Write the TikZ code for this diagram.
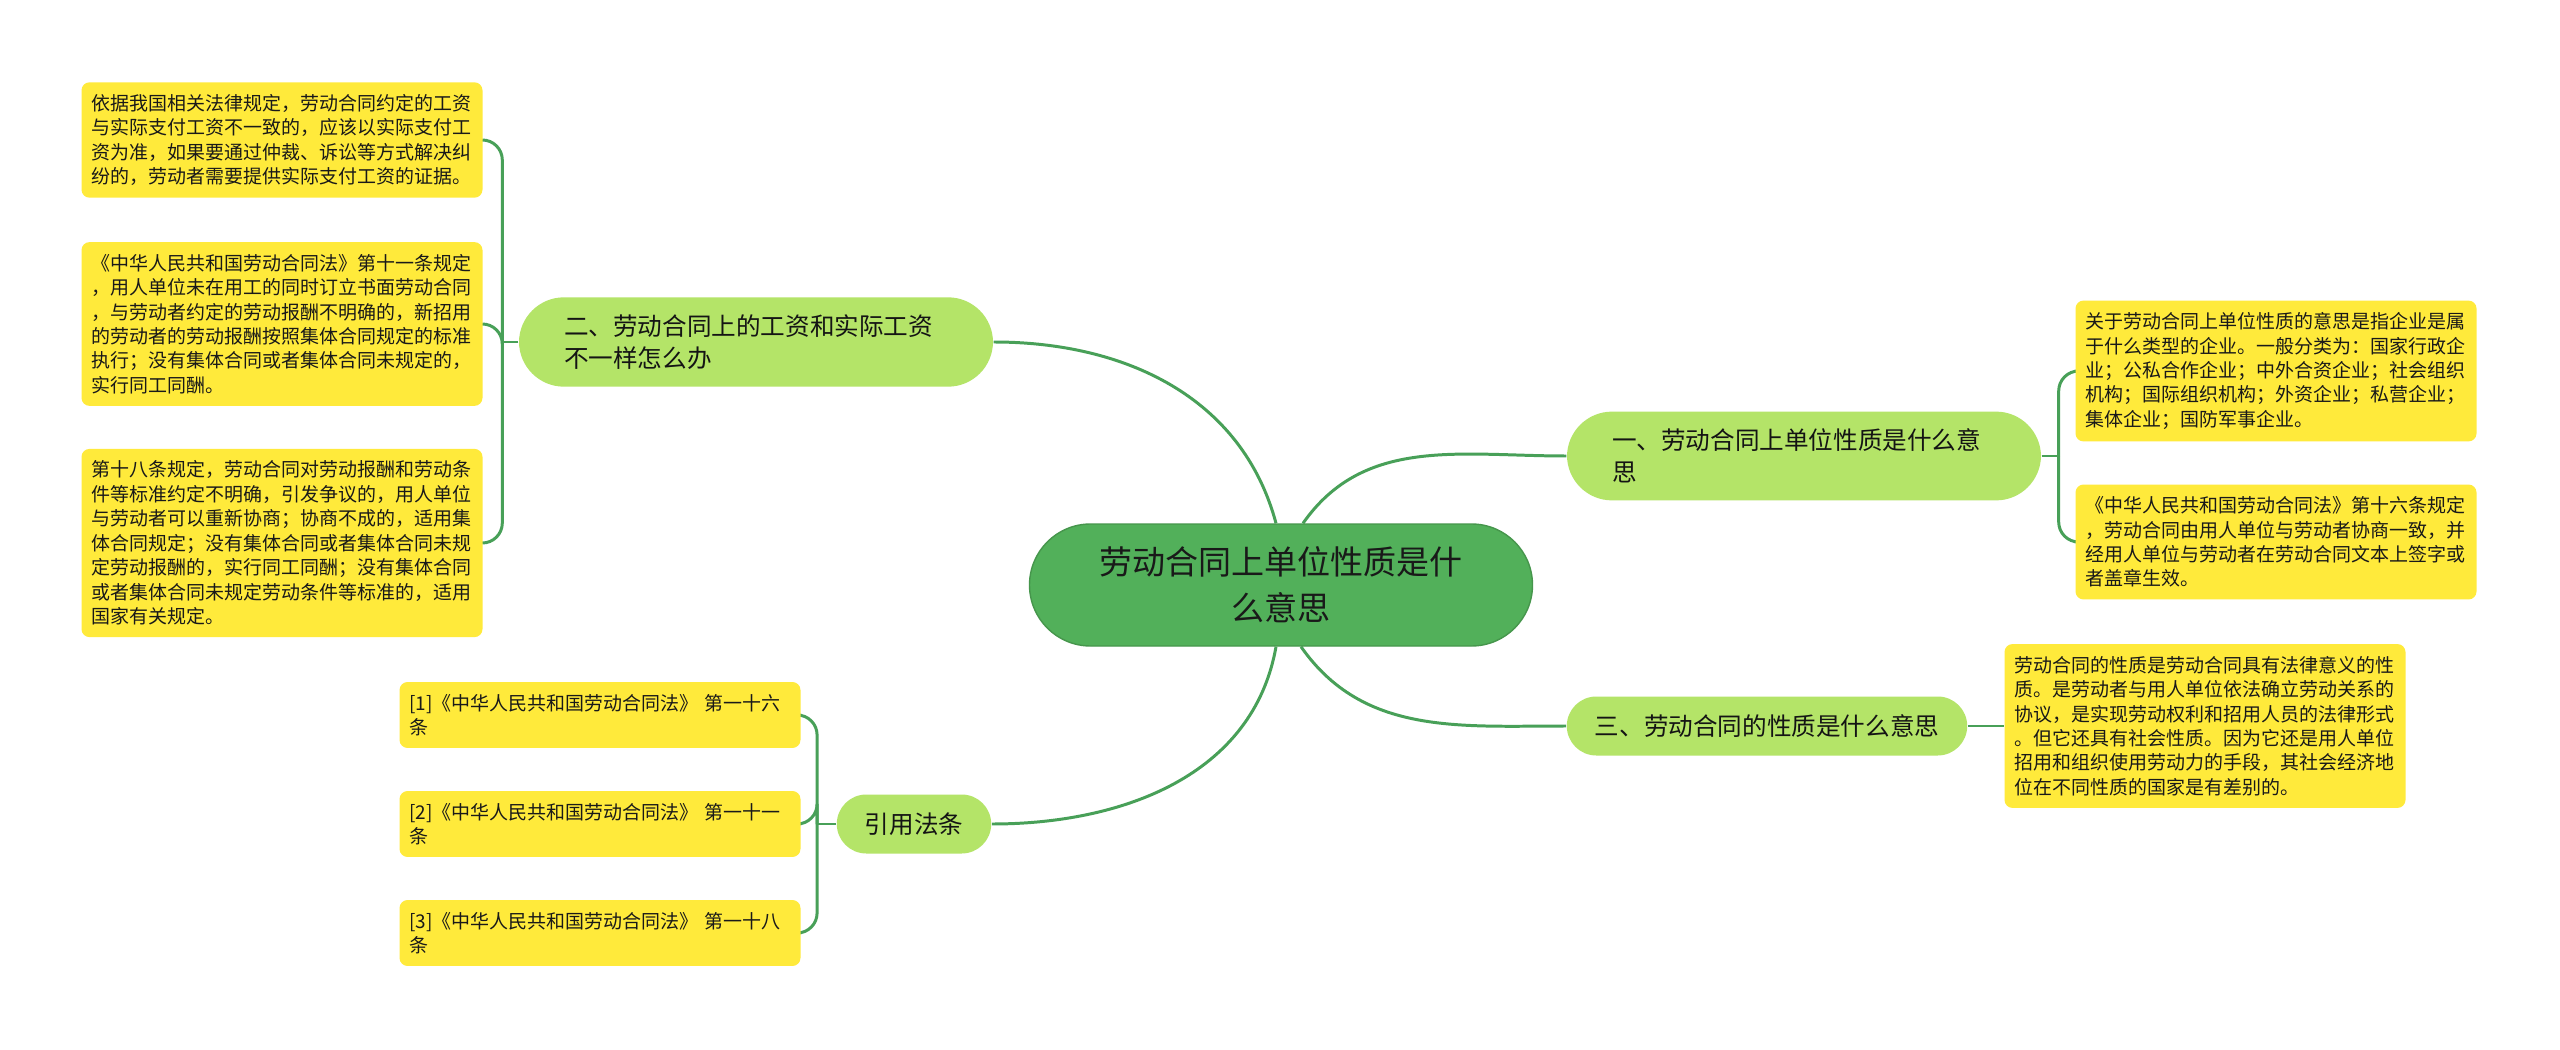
\documentclass[tikz,border=0pt]{standalone}
\usepackage{fontspec}
\setmainfont{Noto Sans CJK SC}
\usetikzlibrary{calc,backgrounds}
\definecolor{rootgreen}{RGB}{82,176,90}
\definecolor{topicgreen}{RGB}{180,228,104}
\definecolor{leafyellow}{RGB}{255,234,59}
\definecolor{linkgreen}{RGB}{72,160,88}

\begin{document}
\begin{tikzpicture}[
      x=0.1mm, y=0.1mm,
      root/.style={draw=rootgreen!85!black, fill=rootgreen, text=black!90,
                   rounded corners=6.1mm, minimum width=50.3mm, minimum height=12.2mm,
                   align=center, font=\fontsize{9.4}{13.1}\selectfont},
      topic/.style={fill=topicgreen, text=black!92, rounded corners=2.95mm,
                    minimum height=5.9mm, inner xsep=2.8mm, inner ysep=1.74mm,
                    font=\fontsize{7}{9}\selectfont},
      longtopic/.style={topic, rounded corners=4.5mm, text width=38.4mm,
                        inner xsep=4.5mm, align=left},
      leaf/.style={fill=leafyellow, text=black!90, rounded corners=0.8mm,
                   text width=38.1mm, inner xsep=1mm, inner ysep=1.2mm, align=left,
                   font=\fontsize{5.4}{6.95}\selectfont},
      link/.style={draw=linkgreen, line width=0.85pt},
    ]
    \useasboundingbox (0,0) rectangle (2560,-1050);

    % root and topics
    \node[root] (root) at (1281,-585) {劳动合同上单位性质是什\\么意思};
    \node[longtopic] (wage) at (756,-342) {二、劳动合同上的工资和实际工资\\不一样怎么办};
    \node[longtopic] (unit) at (1804,-456) {一、劳动合同上单位性质是什么意\\思};
    \node[topic] (nature) at (1767,-726) {三、劳动合同的性质是什么意思};
    \node[topic] (cite) at (914,-824) {引用法条};

    % wage leaves
    \node[leaf] (wagea) at (282,-140) {依据我国相关法律规定，劳动合同约定的工资\\
      与实际支付工资不一致的，应该以实际支付工\\
      资为准，如果要通过仲裁、诉讼等方式解决纠\\
      纷的，劳动者需要提供实际支付工资的证据。};
    \node[leaf] (wageb) at (282,-324) {《中华人民共和国劳动合同法》第十一条规定\\
      ，用人单位未在用工的同时订立书面劳动合同\\
      ，与劳动者约定的劳动报酬不明确的，新招用\\
      的劳动者的劳动报酬按照集体合同规定的标准\\
      执行；没有集体合同或者集体合同未规定的，\\
      实行同工同酬。};
    \node[leaf] (wagec) at (282,-543) {第十八条规定，劳动合同对劳动报酬和劳动条\\
      件等标准约定不明确，引发争议的，用人单位\\
      与劳动者可以重新协商；协商不成的，适用集\\
      体合同规定；没有集体合同或者集体合同未规\\
      定劳动报酬的，实行同工同酬；没有集体合同\\
      或者集体合同未规定劳动条件等标准的，适用\\
      国家有关规定。};

    % unit leaves
    \node[leaf] (unita) at (2276,-371) {关于劳动合同上单位性质的意思是指企业是属\\
      于什么类型的企业。一般分类为：国家行政企\\
      业；公私合作企业；中外合资企业；社会组织\\
      机构；国际组织机构；外资企业；私营企业；\\
      集体企业；国防军事企业。};
    \node[leaf] (unitb) at (2276,-542) {《中华人民共和国劳动合同法》第十六条规定\\
      ，劳动合同由用人单位与劳动者协商一致，并\\
      经用人单位与劳动者在劳动合同文本上签字或\\
      者盖章生效。};

    % nature leaf
    \node[leaf] (naturea) at (2205,-726) {劳动合同的性质是劳动合同具有法律意义的性\\
      质。是劳动者与用人单位依法确立劳动关系的\\
      协议，是实现劳动权利和招用人员的法律形式\\
      。但它还具有社会性质。因为它还是用人单位\\
      招用和组织使用劳动力的手段，其社会经济地\\
      位在不同性质的国家是有差别的。};

    % cited articles
    \node[leaf] (citea) at (600,-715) {[1]《中华人民共和国劳动合同法》 第一十六\\条};
    \node[leaf] (citeb) at (600,-824) {[2]《中华人民共和国劳动合同法》 第一十一\\条};
    \node[leaf] (citec) at (600,-933) {[3]《中华人民共和国劳动合同法》 第一十八\\条};

    \coordinate (wagej) at ($(wage.west)+(-16,0)$);
    \coordinate (unitj) at ($(unit.east)+(17,0)$);
    \coordinate (citej) at ($(cite.west)+(-19,0)$);

    \begin{scope}[on background layer]
      \fill[white] (0,0) rectangle (2560,-1050);
      % root to topics
      \draw[link] ([xshift=-0.5mm]root.north) to[out=105,in=0] (wage.east);
      \draw[link] ([xshift=2.2mm]root.north) to[out=55,in=180] (unit.west);
      \draw[link] ([xshift=2mm]root.south) to[out=-55,in=180] (nature.west);
      \draw[link] ([xshift=-0.5mm]root.south) to[out=-100,in=0] (cite.east);
      % topics to leaves
      \draw[link] (wage.west) -- (wagej);
      \draw[link, rounded corners=2mm] (wagej) |- (wagea.east);
      \draw[link, rounded corners=2mm] (wagej) |- (wageb.east);
      \draw[link, rounded corners=2mm] (wagej) |- (wagec.east);
      \draw[link] (unit.east) -- (unitj);
      \draw[link, rounded corners=2mm] (unitj) |- (unita.west);
      \draw[link, rounded corners=2mm] (unitj) |- (unitb.west);
      \draw[link] (nature.east) -- (naturea.west);
      \draw[link] (cite.west) -- (citej);
      \draw[link, rounded corners=2mm] (citej) |- (citea.east);
      \draw[link, rounded corners=2mm] (citej) |- (citeb.east);
      \draw[link, rounded corners=2mm] (citej) |- (citec.east);
    \end{scope}
  \end{tikzpicture}
\end{document}
